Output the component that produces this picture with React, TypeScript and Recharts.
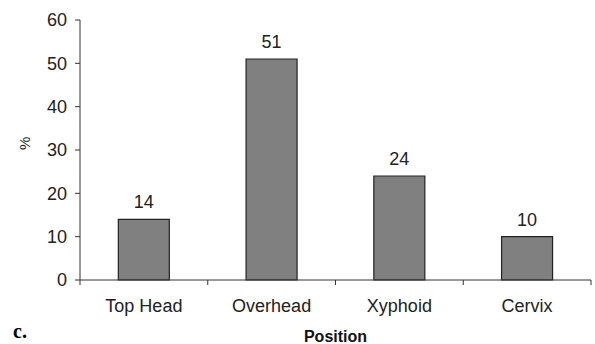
import { BarChart, Bar, XAxis, YAxis, LabelList, Label } from "recharts";

const positions = ["Top Head", "Overhead", "Xyphoid", "Cervix"];
const percents = [14, 51, 24, 10];
const yTicks = [0, 10, 20, 30, 40, 50, 60];

const data = positions.map((name, i) => ({ name, value: percents[i] }));

const FONT = "'Liberation Sans', Arial, sans-serif";

// category tick: label + boundary tick marks like the original excel chart
const PositionTick = (props: any) => {
  const { x, y, payload, index } = props;
  const half = payload?.offset ?? 64;
  const axisY = y - 8;
  return (
    <g>
      <line x1={x + half} y1={axisY} x2={x + half} y2={axisY + 5} stroke="#333" />
      {index === 0 && (
        <line x1={x - half} y1={axisY} x2={x - half} y2={axisY + 5} stroke="#333" />
      )}
      <text x={x} y={y + 24} textAnchor="middle" fontSize={18} fill="#222" fontFamily={FONT}>
        {payload.value}
      </text>
    </g>
  );
};

export default function App() {
  return (
    <div style={{ position: "absolute", left: 0, top: 0, width: 595, height: 344, background: "#fff", overflow: "hidden" }}>
      <BarChart
        width={595}
        height={344}
        data={data}
        barCategoryGap="30%"
        margin={{ top: 20, right: 4, left: 0, bottom: 4 }}
      >
        <YAxis
          width={80}
          domain={[0, 60]}
          ticks={yTicks}
          interval={0}
          tickSize={5}
          tickMargin={8}
          stroke="#333"
          tick={{ fill: "#222", fontSize: 18, fontFamily: FONT }}
        >
          <Label
            value="%"
            angle={-90}
            position="insideLeft"
            offset={25}
            style={{ fill: "#222", fontSize: 15, fontFamily: FONT }}
          />
        </YAxis>
        <XAxis
          dataKey="name"
          height={60}
          tickLine={false}
          stroke="#333"
          interval={0}
          tick={<PositionTick />}
        >
          <Label
            value="Position"
            position="insideBottom"
            offset={-2}
            style={{ fill: "#111", fontSize: 16, fontWeight: "bold", fontFamily: FONT }}
          />
        </XAxis>
        <Bar dataKey="value" fill="#808080" stroke="#222" strokeWidth={1.2} isAnimationActive={false}>
          <LabelList
            dataKey="value"
            position="top"
            offset={11}
            style={{ fill: "#222", fontSize: 18, fontFamily: FONT }}
          />
        </Bar>
      </BarChart>
      <div
        style={{
          position: "absolute",
          left: 13,
          top: 321,
          lineHeight: "20px",
          fontFamily: "'Liberation Serif', 'Times New Roman', serif",
          fontWeight: "bold",
          fontSize: 20,
          color: "#000",
        }}
      >
        c.
      </div>
    </div>
  );
}
